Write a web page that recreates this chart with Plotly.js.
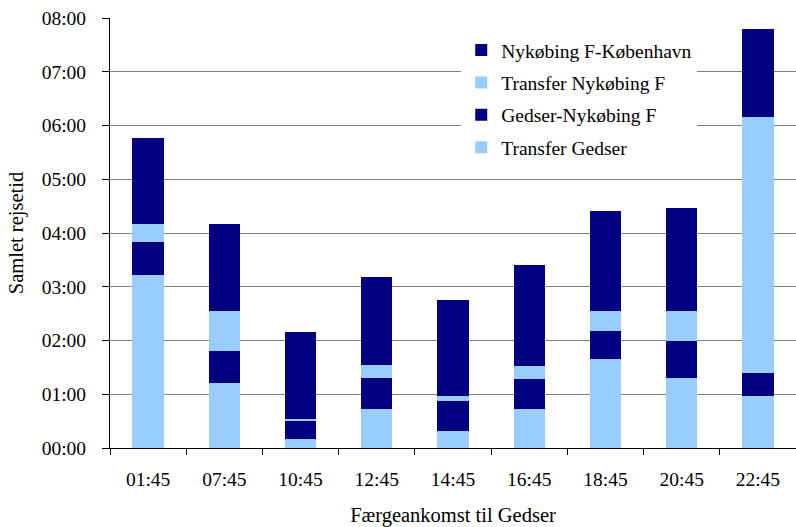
<!DOCTYPE html>
<html>
<head>
<meta charset="utf-8">
<script src="https://cdn.plot.ly/plotly-3.0.1.min.js"></script>
<style>html,body{margin:0;padding:0;background:#fff;}#chart{width:796px;height:527px;}</style>
</head>
<body>
<div id="chart"></div>
<script>
// Ferry arrival times at Gedser (categories)
const categories = ["01:45", "07:45", "10:45", "12:45", "14:45", "16:45", "18:45", "20:45", "22:45"];
// Segment durations in minutes
const transferGedser   = [193, 73, 10, 44, 19, 44, 99, 78, 58];
const gedserNykobing   = [37, 35, 20, 34, 33, 33, 32, 42, 26];
const transferNykobing = [20, 45, 2, 15, 6, 15, 22, 33, 285];
const nykobingKbh      = [96, 97, 97, 98, 107, 112, 112, 115, 99];
// Y axis tick labels (minutes -> hh:mm)
const yTickVals = [0, 60, 120, 180, 240, 300, 360, 420, 480];
const yTickText = ["00:00", "01:00", "02:00", "03:00", "04:00", "05:00", "06:00", "07:00", "08:00"];

const navy = "#000080";
const light = "#99CCFF";
const font = "'Liberation Serif', 'Times New Roman', serif";

function tr(name, y, color, grp, rank) {
  return {type: "bar", name: name, x: categories, y: y, legendgroup: grp, legendrank: rank,
          marker: {color: color, line: {width: 0}}, hoverinfo: "name+y"};
}
const data = [
  tr("Transfer Gedser", transferGedser, light, "g1", 4),
  tr("Gedser-Nykøbing F", gedserNykobing, navy, "g2", 3),
  tr("Transfer Nykøbing F", transferNykobing, light, "g3", 2),
  tr("Nykøbing F-København", nykobingKbh, navy, "g4", 1)
];

const layout = {
  width: 796, height: 527,
  margin: {l: 110, r: 0, t: 18, b: 79},
  paper_bgcolor: "#fff", plot_bgcolor: "#fff",
  barmode: "stack", bargap: 0.59,
  font: {family: font, size: 19.5, color: "#000"},
  showlegend: true,
  legend: {x: 0.512, y: 0.97, xanchor: "left", yanchor: "top",
           bgcolor: "#fff", borderwidth: 0, traceorder: "grouped",
           tracegroupgap: 4, font: {family: font, size: 19.5, color: "#000"}},
  xaxis: {type: "category", showgrid: false, showline: true, linecolor: "#000", linewidth: 1,
          ticks: "outside", tickson: "boundaries", ticklen: 6, tickcolor: "#000",
          ticklabelstandoff: 14, tickfont: {family: font, size: 19.5},
          title: {text: "Færgeankomst til Gedser", font: {family: font, size: 20.5}, standoff: 22},
          fixedrange: true},
  yaxis: {range: [0, 480], tickvals: yTickVals, ticktext: yTickText,
          showgrid: true, gridcolor: "#808080", gridwidth: 1,
          showline: true, linecolor: "#000", linewidth: 1,
          ticks: "outside", ticklen: 7, tickcolor: "#000", ticklabelstandoff: 12,
          tickfont: {family: font, size: 19.5},
          zeroline: false,
          title: {text: "Samlet rejsetid", font: {family: font, size: 20.5}, standoff: 12},
          fixedrange: true}
};

Plotly.newPlot("chart", data, layout, {displayModeBar: false, staticPlot: true});
</script>
</body>
</html>
